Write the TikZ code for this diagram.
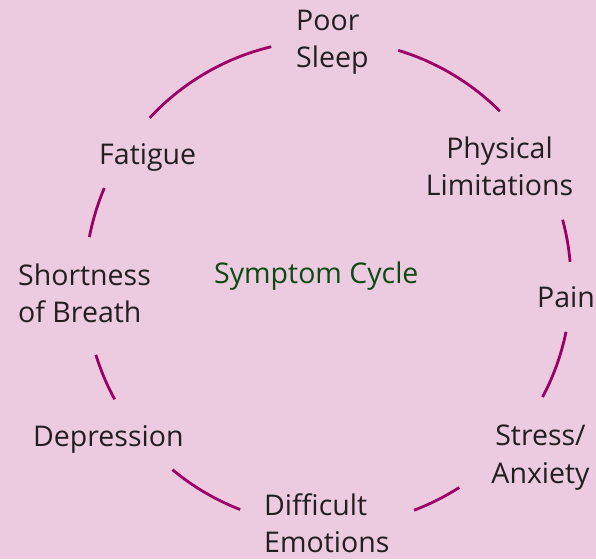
\documentclass[tikz,border=0pt]{standalone}
\usepackage{fontspec}
\setmainfont{Open Sans}
\usetikzlibrary{calc}
\definecolor{bgpink}{HTML}{ECCBE0}
\definecolor{arcmag}{HTML}{9C0066}
\definecolor{txtgray}{HTML}{231F20}
\definecolor{cyclegreen}{HTML}{0D4A12}
\begin{document}
\begin{tikzpicture}[x=1pt,y=1pt,
  lbl/.style={inner sep=0pt, text=txtgray, font=\fontsize{28.5}{37.5}\selectfont},
  cyc/.style={draw=arcmag, line width=2.8pt}]
\useasboundingbox (0,0) rectangle (596,559);
\fill[bgpink] (0,0) rectangle (596,559);
\coordinate (C) at (328,276);
% arcs
\foreach \a/\b in {103.5/137.2, 45/73.2, 5.0/15.1, -28.0/-11.6, -69.25/-57.3, -129.8/-111.2, -162.8/-151.4, 157.0/169.1}
  \draw[cyc] ($(C)+(\a:243pt)$) arc[start angle=\a, end angle=\b, radius=243pt];
% labels (base anchor = baseline of last line)
\node[lbl, anchor=base west, align=left] (sleep) at (296,491) {Poor\\Sleep};
\node[lbl, anchor=base, align=center] (phys) at (499.5,363) {Physical\\Limitations};
\node[lbl, anchor=base east] (pain) at (595,251) {Pain};
\node[lbl, anchor=base, align=center] (stress) at (540.5,76) {Stress/\\Anxiety};
\node[lbl, anchor=base west, align=left] (emo) at (264,6.5) {Difficult\\Emotions};
\node[lbl, anchor=base west] (dep) at (33,112) {Depression};
\node[lbl, anchor=base west, align=left] (sob) at (18,236) {Shortness\\of Breath};
\node[lbl, anchor=base west] (fat) at (99,394) {Fatigue};
\node[lbl, anchor=base west, text=cyclegreen] (cycle) at (214,275) {Symptom Cycle};
\end{tikzpicture}
\end{document}
